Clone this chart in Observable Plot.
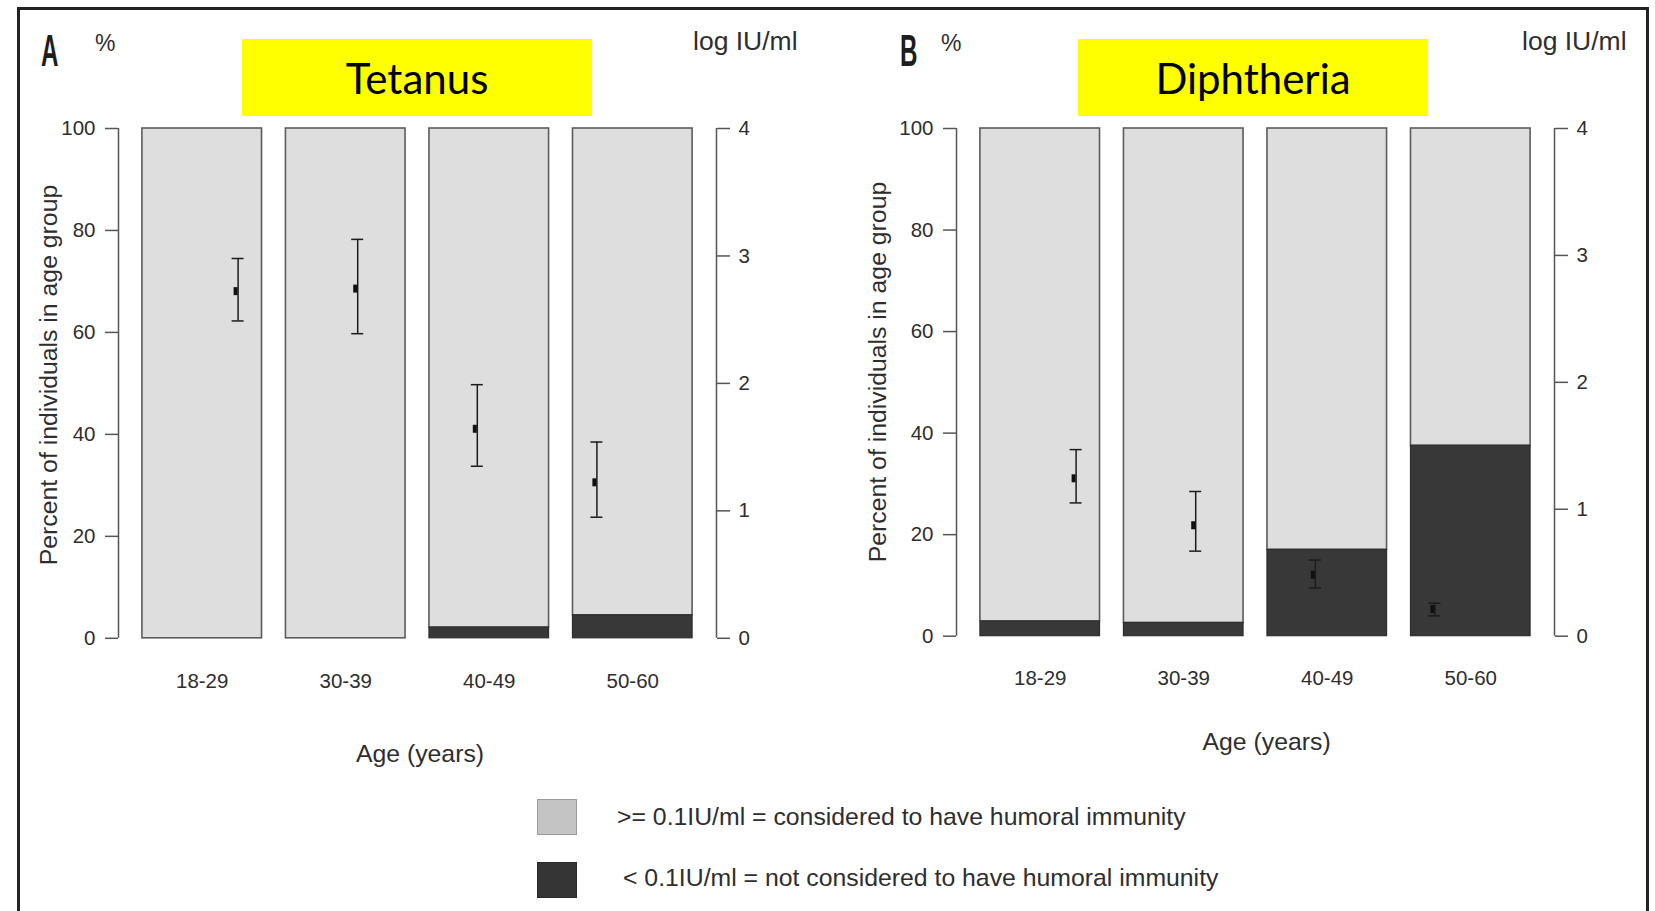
<!DOCTYPE html>
<html><head><meta charset="utf-8">
<script src="https://cdn.jsdelivr.net/npm/d3@7"></script>
<script src="https://cdn.jsdelivr.net/npm/@observablehq/plot@0.6"></script>
<style>
body{margin:0;background:#fff;}
#root{position:relative;width:1655px;height:911px;overflow:hidden;background:#fff;font-family:"Liberation Sans",Arial,sans-serif;color:#2e2e2e;}
.abs{position:absolute;white-space:nowrap;}
.layer{position:absolute;}
.layer svg{overflow:visible;max-width:none !important;display:block;}
</style></head><body><div id="root"></div>
<script>
// ---------- data ----------
const ageGroups = ["18-29", "30-39", "40-49", "50-60"];
// percent of individuals with < 0.1 IU/ml (not immune)
const tetanusNonImmune = [0, 0, 2.1, 4.5];
const diphtheriaNonImmune = [2.9, 2.6, 17.0, 37.5];
// geometric mean titre (log IU/ml) with confidence interval
const tetanusMean = [2.72, 2.74, 1.64, 1.22];
const tetanusLower = [2.49, 2.39, 1.35, 0.95];
const tetanusUpper = [2.98, 3.13, 1.99, 1.54];
const diphtheriaMean = [1.24, 0.87, 0.48, 0.21];
const diphtheriaLower = [1.05, 0.67, 0.38, 0.16];
const diphtheriaUpper = [1.47, 1.14, 0.60, 0.26];
const percentTicks = [0, 20, 40, 60, 80, 100];
const logTicks = [0, 1, 2, 3, 4];
const panelLetters = ["A", "B"];
const panelTitles = ["Tetanus", "Diphtheria"];
const leftUnit = "%";
const rightUnit = "log IU/ml";
const yLabel = "Percent of individuals in age group";
const xLabel = "Age (years)";
const legendLabels = [">= 0.1IU/ml = considered to have humoral immunity", "< 0.1IU/ml = not considered to have humoral immunity"];

// ---------- style ----------
const LIGHT = "#dedede", DARK = "#383838", EDGE = "#5c5c5c", AXIS = "#555", TXT = "#2e2e2e", ERR = "#1c1c1c";
const root = document.getElementById("root");
const FONT = '"Liberation Sans", Arial, sans-serif';

function textAt(txt, x, baseline, fs, o = {}) {
  const d = document.createElement("div");
  d.className = "abs";
  d.textContent = txt;
  d.style.fontSize = fs + "px";
  d.style.lineHeight = fs + "px";
  d.style.fontFamily = o.font || FONT;
  d.style.left = x + "px";
  d.style.top = (baseline - (o.asc ?? 0.8465) * fs) + "px";
  d.style.color = o.color || TXT;
  if (o.weight) d.style.fontWeight = o.weight;
  let tf = "";
  if (o.anchor === "middle") tf += "translateX(-50%) ";
  if (o.scaleX) { tf += `scaleX(${o.scaleX})`; d.style.transformOrigin = "left center"; }
  if (tf) d.style.transform = tf;
  root.appendChild(d);
  return d;
}

// outer frame
const frame = document.createElement("div");
frame.className = "abs";
Object.assign(frame.style, {left: "17px", top: "7px", width: "1632px", height: "1000px", border: "3px solid #232323", boxSizing: "border-box"});
root.appendChild(frame);

// ---------- panels ----------
const mL = 110, mR = 110, mT = 20, mB = 70;
const panels = [
  {axisLeft: 118, axisRight: 716, yTop: 127.7, yBottom: 637.5, nonImmune: tetanusNonImmune, mean: tetanusMean, lo: tetanusLower, hi: tetanusUpper, catDy: 43.5},
  {axisLeft: 956, axisRight: 1554, yTop: 127.7, yBottom: 635.4, nonImmune: diphtheriaNonImmune, mean: diphtheriaMean, lo: diphtheriaLower, hi: diphtheriaUpper, catDy: 42.2}
];

panels.forEach((p) => {
  const innerW = p.axisRight - p.axisLeft;
  const innerH = p.yBottom - p.yTop;
  const W = mL + innerW + mR, H = mT + innerH + mB;
  const bars = ageGroups.map((g, i) => ({group: g, x1: 0.2 + 1.2 * i, x2: 1.2 + 1.2 * i, low: p.nonImmune[i]}));
  const errs = ageGroups.map((g, i) => ({group: g, x: i + 1, mean: p.mean[i], lo: p.lo[i], hi: p.hi[i]}));
  const common = {width: W, height: H, marginLeft: mL, marginRight: mR, marginTop: mT, marginBottom: mB,
    style: {background: "transparent", fontFamily: FONT, color: TXT, overflow: "visible", maxWidth: "none"}};

  const barPlot = Plot.plot({
    ...common,
    x: {domain: [0, 5], axis: null},
    y: {domain: [0, 100], axis: null},
    marks: [
      Plot.rect(bars, {x1: "x1", x2: "x2", y1: "low", y2: 100, fill: LIGHT, stroke: EDGE, strokeWidth: 1.6}),
      Plot.rect(bars, {x1: "x1", x2: "x2", y1: 0, y2: "low", fill: DARK, stroke: "#2e2e2e", strokeWidth: 1.2}),
      Plot.ruleX([0], {y1: 0, y2: 100, stroke: AXIS, strokeWidth: 1.5}),
      Plot.axisY({anchor: "left", ticks: percentTicks, tickSize: 13, tickPadding: 10, tickFormat: (d) => String(d), label: null, stroke: AXIS, strokeWidth: 1.5, fontSize: 20.5, fill: TXT}),
      Plot.text(bars, {x: (d) => (d.x1 + d.x2) / 2, text: "group", frameAnchor: "bottom", lineAnchor: "middle", dy: p.catDy, fontSize: 20.5, fill: TXT})
    ]
  });
  const errPlot = Plot.plot({
    ...common,
    x: {domain: [0, 5], axis: null},
    y: {domain: [0, 4], axis: null},
    marks: [
      Plot.ruleX(errs, {x: "x", y1: "lo", y2: "hi", stroke: ERR, strokeWidth: 1.5}),
      Plot.ruleY(errs, {y: "lo", x1: "x", x2: "x", insetLeft: -6, insetRight: -6, stroke: ERR, strokeWidth: 1.5}),
      Plot.ruleY(errs, {y: "hi", x1: "x", x2: "x", insetLeft: -6, insetRight: -6, stroke: ERR, strokeWidth: 1.5}),
      Plot.ruleX(errs, {x: "x", y1: "mean", y2: "mean", insetTop: -4, insetBottom: -4, dx: -2.5, stroke: "#111", strokeWidth: 4}),
      Plot.ruleX([5], {y1: 0, y2: 4, stroke: AXIS, strokeWidth: 1.5}),
      Plot.axisY({anchor: "right", ticks: logTicks, tickSize: 13, tickPadding: 9, tickFormat: (d) => String(d), label: null, stroke: AXIS, strokeWidth: 1.5, fontSize: 20.5, fill: TXT})
    ]
  });
  [barPlot, errPlot].forEach((svg) => {
    const wrap = document.createElement("div");
    wrap.className = "layer";
    wrap.style.left = (p.axisLeft - mL) + "px";
    wrap.style.top = (p.yTop - mT) + "px";
    wrap.style.width = W + "px";
    wrap.style.height = H + "px";
    wrap.appendChild(svg);
    root.appendChild(wrap);
  });
});

// ---------- panel texts ----------
const textPos = [
  {letterX: 41, pctX: 95, unitX: 693, titleX: 242, yLabX: 48.6, yLabY: 374.7, xLabX: 420, xLabBase: 762.8},
  {letterX: 900, pctX: 941, unitX: 1522, titleX: 1078, yLabX: 878, yLabY: 371.5, xLabX: 1266.6, xLabBase: 751.4}
];
textPos.forEach((t, i) => {
  textAt(panelLetters[i], t.letterX, 66.5, 44, {weight: "bold", scaleX: 0.55, color: "#1e1e1e"});
  textAt(leftUnit, t.pctX, 51, 23);
  textAt(rightUnit, t.unitX, 50, 26.5);
  // yellow title box
  const box = document.createElement("div");
  box.className = "abs";
  Object.assign(box.style, {left: t.titleX + "px", top: "39px", width: "350px", height: "77px", background: "#ffff00",
    display: "flex", alignItems: "center", justifyContent: "center", fontFamily: "Lato, 'Open Sans', sans-serif",
    fontSize: "42px", color: "#000", lineHeight: "77px", paddingTop: "2px", boxSizing: "border-box"});
  box.textContent = panelTitles[i];
  root.appendChild(box);
  // y label (rotated)
  const yl = document.createElement("div");
  yl.className = "abs";
  yl.textContent = yLabel;
  Object.assign(yl.style, {left: t.yLabX + "px", top: t.yLabY + "px", fontSize: "24.8px", lineHeight: "24.8px", color: TXT,
    transform: "translate(-50%,-50%) rotate(-90deg)", fontFamily: FONT});
  root.appendChild(yl);
  // x label
  textAt(xLabel, t.xLabX, t.xLabBase, 24.8, {anchor: "middle"});
});

// ---------- legend ----------
const legendFill = ["#c4c4c4", "#353535"];
const legendTop = [799, 862];
const legendTextX = [617, 623];
const legendBase = [825.5, 887];
legendLabels.forEach((lab, i) => {
  const sq = document.createElement("div");
  sq.className = "abs";
  Object.assign(sq.style, {left: "537px", top: legendTop[i] + "px", width: "40px", height: "36px", background: legendFill[i],
    border: "1px solid " + (i ? "#2a2a2a" : "#9a9a9a"), boxSizing: "border-box"});
  root.appendChild(sq);
  textAt(lab, legendTextX[i], legendBase[i], 24.8);
});
</script>
</body></html>
